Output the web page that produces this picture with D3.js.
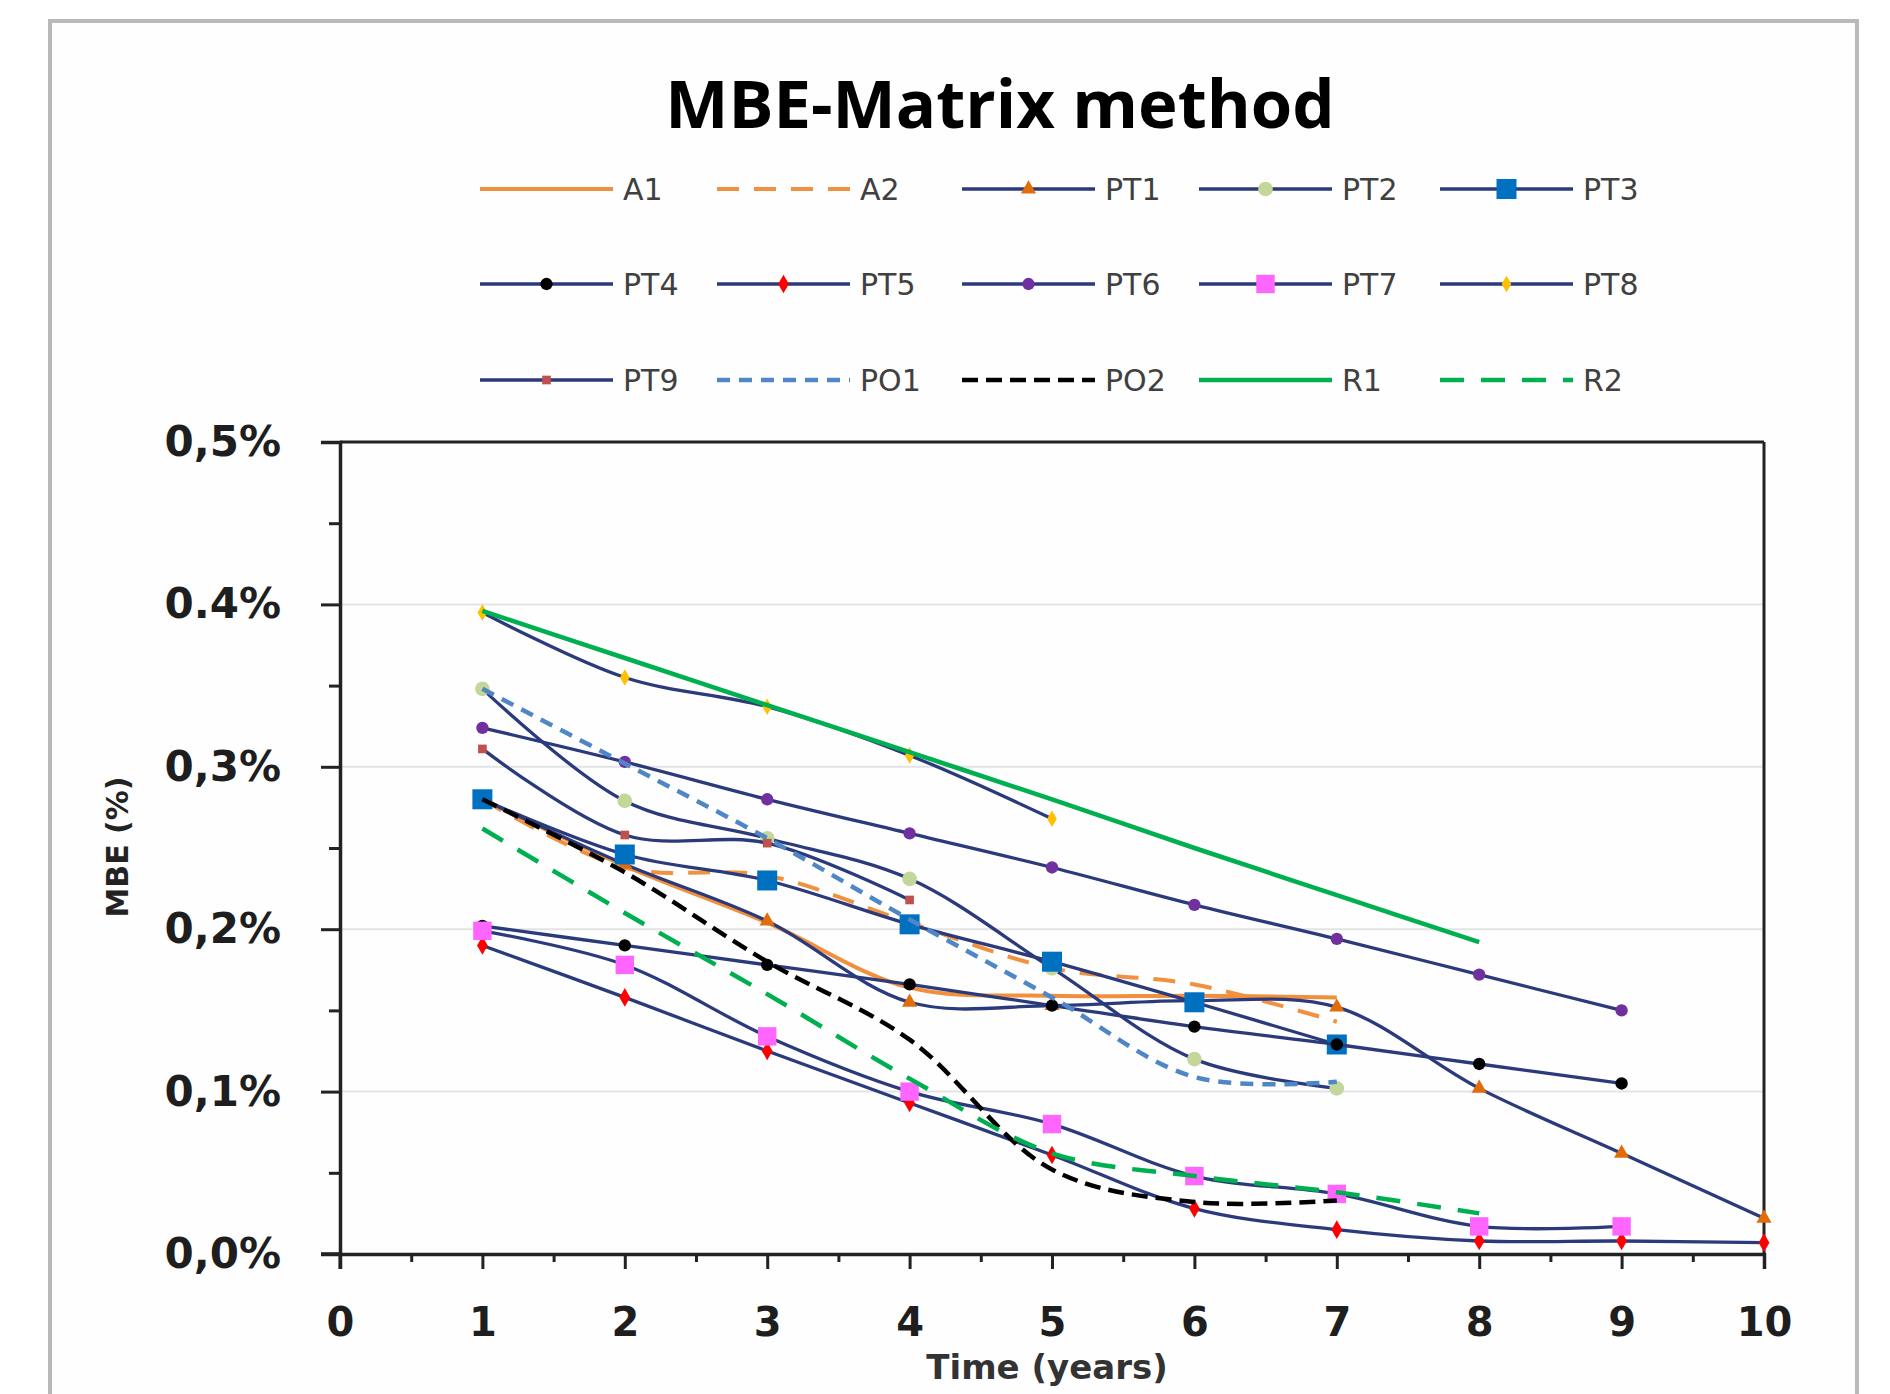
<!DOCTYPE html>
<html><head><meta charset="utf-8">
<script src="https://cdn.jsdelivr.net/npm/d3@7"></script>
<style>body{margin:0;background:#fff}</style>
</head><body>
<svg id="c" width="1890" height="1394"></svg>
<script>
// ---------- DATA ----------
const years = [1,2,3,4,5,6,7,8,9,10];
const A1  = [0.280,0.239,0.204,0.164,0.159,0.159,0.158];
const A2  = [0.280,0.238,0.233,0.204,0.176,0.166,0.143];
const PT1 = [0.280,0.240,0.205,0.155,0.153,0.156,0.152,0.102,0.062,0.022];
const PT2 = [0.348,0.279,0.256,0.231,0.176,0.120,0.102];
const PT3 = [0.280,0.246,0.230,0.203,0.180,0.155,0.129];
const PT4 = [0.202,0.190,0.178,0.166,0.153,0.140,0.129,0.117,0.105];
const PT5 = [0.190,0.158,0.125,0.093,0.061,0.028,0.015,0.008,0.008,0.007];
const PT6 = [0.324,0.303,0.280,0.259,0.238,0.215,0.194,0.172,0.150];
const PT7 = [0.199,0.178,0.134,0.100,0.080,0.048,0.037,0.017,0.017];
const PT8 = [0.395,0.355,0.337,0.307,0.268];
const PT9 = [0.311,0.258,0.253,0.218];
const PO1 = [0.348,0.302,0.256,0.206,0.158,0.109,0.106];
const PO2 = [0.280,0.235,0.180,0.132,0.052,0.032,0.033];
const R1  = [0.396,0.367,0.338,0.309,0.280,0.250,0.221,0.192];
const R2  = [0.262,0.210,0.160,0.108,0.062,0.048,0.038,0.025];
const seriesNames = ["A1","A2","PT1","PT2","PT3","PT4","PT5","PT6","PT7","PT8","PT9","PO1","PO2","R1","R2"];
const seriesValues = [A1,A2,PT1,PT2,PT3,PT4,PT5,PT6,PT7,PT8,PT9,PO1,PO2,R1,R2];
const yTickValues = [0,0.1,0.2,0.3,0.4,0.5];
const yTickLabels = ["0,0%","0,1%","0,2%","0,3%","0.4%","0,5%"];
const xTickValues = [0,1,2,3,4,5,6,7,8,9,10];
const titleText = "MBE-Matrix method";
const xTitle = "Time (years)";
const yTitle = "MBE (%)";

// ---------- STYLES ----------
const NAVY = "#2b3a7b";
const styles = {
  A1:{color:"#f08f3c",w:4,dash:null,marker:null},
  A2:{color:"#f0913f",w:4,dash:"22,15",marker:null},
  PT1:{color:NAVY,w:3.3,dash:null,marker:{type:d3.symbolTriangle,size:100,fill:"#e36c0a"}},
  PT2:{color:NAVY,w:3.3,dash:null,marker:{type:d3.symbolCircle,size:170,fill:"#c4d79b"}},
  PT3:{color:NAVY,w:3.3,dash:null,marker:{type:d3.symbolSquare,size:400,fill:"#0070c0"}},
  PT4:{color:NAVY,w:3.3,dash:null,marker:{type:d3.symbolCircle,size:120,fill:"#000000"}},
  PT5:{color:NAVY,w:3.3,dash:null,marker:{type:d3.symbolDiamond,size:100,fill:"#ff0000"}},
  PT6:{color:NAVY,w:3.3,dash:null,marker:{type:d3.symbolCircle,size:120,fill:"#7030a0"}},
  PT7:{color:NAVY,w:3.3,dash:null,marker:{type:d3.symbolSquare,size:340,fill:"#ff66ff"}},
  PT8:{color:NAVY,w:3.3,dash:null,marker:{type:d3.symbolDiamond,size:80,fill:"#ffc000"}},
  PT9:{color:NAVY,w:3.3,dash:null,marker:{type:d3.symbolSquare,size:75,fill:"#c0504d"}},
  PO1:{color:"#4f86c6",w:4.5,dash:"13,9",marker:null},
  PO2:{color:"#000000",w:4.5,dash:"16,8",marker:null},
  R1:{color:"#00b050",w:4.5,dash:null,marker:null},
  R2:{color:"#00b050",w:4.5,dash:"24,17",marker:null}
};

const svg = d3.select("#c");
// outer frame
svg.append("rect").attr("x",50).attr("y",21).attr("width",1807).attr("height",1400)
  .attr("fill","#fefefe").attr("stroke","#b9b9b9").attr("stroke-width",4);

const x = d3.scaleLinear().domain([0,10]).range([340,1764]);
const y = d3.scaleLinear().domain([0,0.5]).range([1254,442]);

// title
svg.append("text").attr("x",1000).attr("y",128).attr("text-anchor","middle")
  .attr("font-family","Open Sans").attr("font-weight","bold").attr("font-size",67)
  .attr("fill","#000").text(titleText);

// gridlines
svg.append("g").selectAll("line").data(yTickValues.filter(v=>v>0 && v<0.5)).join("line")
  .attr("x1",x(0)).attr("x2",x(10)).attr("y1",d=>y(d)).attr("y2",d=>y(d))
  .attr("stroke","#e3e3e3").attr("stroke-width",2);

// plot frame top/right
svg.append("line").attr("x1",x(0)).attr("x2",x(10)).attr("y1",y(0.5)).attr("y2",y(0.5))
  .attr("stroke","#222").attr("stroke-width",3);
svg.append("line").attr("x1",x(10)).attr("x2",x(10)).attr("y1",y(0.5)).attr("y2",y(0))
  .attr("stroke","#222").attr("stroke-width",3);

// axes
const yMinor = d3.range(0.05,0.5,0.1);
const gyMinor = svg.append("g").attr("transform",`translate(${x(0)},0)`)
  .call(d3.axisLeft(y).tickValues(yMinor).tickSize(11).tickFormat(""));
const gy = svg.append("g").attr("transform",`translate(${x(0)},0)`)
  .call(d3.axisLeft(y).tickValues(yTickValues).tickSize(19).tickPadding(40)
    .tickFormat((d,i)=>yTickLabels[i]));
const xMinor = d3.range(0.5,10,1);
const gxMinor = svg.append("g").attr("transform",`translate(0,${y(0)})`)
  .call(d3.axisBottom(x).tickValues(xMinor).tickSize(8).tickFormat(""));
const gx = svg.append("g").attr("transform",`translate(0,${y(0)})`)
  .call(d3.axisBottom(x).tickValues(xTickValues).tickSize(15).tickPadding(38)
    .tickFormat(d=>String(d)));
[gy,gx,gyMinor,gxMinor].forEach(g=>{
  g.selectAll("path,line").attr("stroke","#222").attr("stroke-width",3);
  g.select(".domain").attr("stroke-width",3.5);
});
gyMinor.select(".domain").remove(); gxMinor.select(".domain").remove();
gy.selectAll("text").attr("font-family","DejaVu Sans").attr("font-weight","bold")
  .attr("font-size",42).attr("fill","#1e1e1e");
gx.selectAll("text").attr("font-family","DejaVu Sans").attr("font-weight","bold")
  .attr("font-size",40).attr("fill","#1e1e1e").attr("dy","0.72em");
// extend x-axis line to the left like the ticks
svg.append("line").attr("x1",x(0)-19).attr("x2",x(0)).attr("y1",y(0)).attr("y2",y(0))
  .attr("stroke","#222").attr("stroke-width",3.5);
svg.append("line").attr("x1",x(0)).attr("x2",x(0)).attr("y1",y(0)).attr("y2",y(0)+15)
  .attr("stroke","#222").attr("stroke-width",3);

// axis titles
svg.append("text").attr("x",1047).attr("y",1379).attr("text-anchor","middle")
  .attr("font-family","DejaVu Sans").attr("font-weight","bold").attr("font-size",34)
  .attr("fill","#333").text(xTitle);
svg.append("text").attr("transform","translate(128,847) rotate(-90)").attr("text-anchor","middle")
  .attr("font-family","DejaVu Sans").attr("font-weight","bold").attr("font-size",30)
  .attr("fill","#222").text(yTitle);

// series
const line = d3.line().x((d,i)=>x(years[i])).y(d=>y(d)).curve(d3.curveCatmullRom.alpha(0.5));
const plot = svg.append("g");
seriesNames.forEach((name,k)=>{
  const vals = seriesValues[k]; const s = styles[name];
  const g = plot.append("g");
  g.append("path").attr("d",line(vals)).attr("fill","none").attr("stroke",s.color)
    .attr("stroke-width",s.w).attr("stroke-dasharray",s.dash).attr("stroke-linejoin","round");
  if (s.marker) {
    const sym = d3.symbol().type(s.marker.type).size(s.marker.size);
    g.selectAll("path.m").data(vals).join("path").attr("class","m")
      .attr("transform",(d,i)=>`translate(${x(years[i])},${y(d)})`)
      .attr("d",sym()).attr("fill",s.marker.fill);
  }
});

// legend
const colX = [480,717,962,1199,1440];
const rowY = [189,284,380];
const legLen = 133;
const leg = svg.append("g");
seriesNames.forEach((name,k)=>{
  const s = styles[name];
  const cx = colX[k%5], cy = rowY[Math.floor(k/5)];
  leg.append("line").attr("x1",cx).attr("x2",cx+legLen).attr("y1",cy).attr("y2",cy)
    .attr("stroke",s.color).attr("stroke-width",s.w).attr("stroke-dasharray",s.dash);
  if (s.marker) {
    const sym = d3.symbol().type(s.marker.type).size(s.marker.size);
    leg.append("path").attr("transform",`translate(${cx+legLen/2},${cy})`).attr("d",sym()).attr("fill",s.marker.fill);
  }
  leg.append("text").attr("x",cx+legLen+10).attr("y",cy+11)
    .attr("font-family","DejaVu Sans").attr("font-size",30).attr("fill","#404040").text(name);
});
</script>
</body></html>
